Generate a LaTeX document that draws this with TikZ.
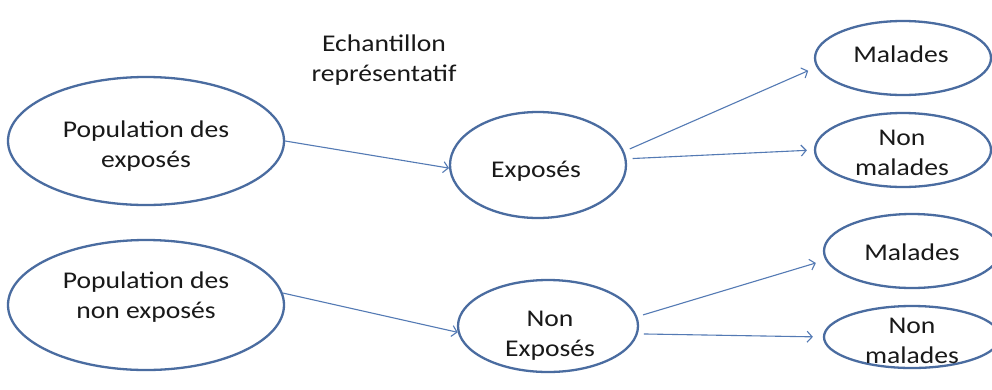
\documentclass[tikz,border=0pt]{standalone}
\usepackage{fontspec}
\setmainfont{Carlito}[FakeStretch=1.15]
\usetikzlibrary{arrows.meta,shapes.geometric}
\definecolor{ovalblue}{RGB}{74,108,160}
\definecolor{arrowblue}{RGB}{84,122,180}
\definecolor{inktext}{RGB}{25,25,25}

\begin{document}
\begin{tikzpicture}[x=1pt,y=-1pt,
  oval/.style={draw=ovalblue, line width=2.3pt, ellipse, fill=white, inner sep=0pt},
  lbl/.style={font=\fontsize{24}{30}\selectfont, text=inktext, align=center,
              anchor=base, inner sep=0pt},
  link/.style={draw=arrowblue, line width=1.1pt,
               -{Straight Barb[length=5pt,width=11pt]}}]
  \useasboundingbox[fill=white] (0,0) rectangle (992,389);

  % populations
  \node[oval, minimum width=276pt, minimum height=128pt] (pe) at (146,141) {};
  \node[oval, minimum width=276pt, minimum height=130pt] (pn) at (146,305) {};
  % samples
  \node[oval, minimum width=176pt, minimum height=106pt] (ex) at (538,165) {};
  \node[oval, minimum width=180pt, minimum height=92pt]  (nx) at (548,326) {};
  % outcomes
  \node[oval, minimum width=176pt, minimum height=74pt] (m1) at (903,58) {};
  \node[oval, minimum width=176pt, minimum height=74pt] (n1) at (903,150) {};
  \node[oval, minimum width=176pt, minimum height=74pt] (m2) at (912,251) {};
  \node[oval, minimum width=176pt, minimum height=62pt] (n2) at (912,337) {};

  % labels (base anchor sits on the last line's baseline)
  \node[lbl] (t-ech) at (384,81)  {Echantillon\\représentatif};
  \node[lbl] (t-pe)  at (146,167) {Population des\\exposés};
  \node[lbl] (t-pn)  at (146,318) {Population des\\non exposés};
  \node[lbl] (t-ex)  at (536,177) {Exposés};
  \node[lbl] (t-nx)  at (550,356) {Non\\Exposés};
  \node[lbl] (t-m1)  at (901,62)  {Malades};
  \node[lbl] (t-n1)  at (902,175) {Non\\malades};
  \node[lbl] (t-m2)  at (912,260) {Malades};
  \node[lbl] (t-n2)  at (912,363) {Non\\malades};

  % connectors
  \draw[link] (pe.0) -- (ex.182);
  \draw[link] (pn.5) -- (nx.184);
  \draw[link, shorten <=6pt, shorten >=9pt]  (ex.9)  -- (m1.186);
  \draw[link, shorten <=6pt, shorten >=7pt]  (ex.4)  -- (n1.180);
  \draw[link, shorten <=6pt, shorten >=10pt] (nx.6)  -- (m2.186);
  \draw[link, shorten <=6pt, shorten >=10pt] (nx.-5) -- (n2.180);
\end{tikzpicture}
\end{document}
